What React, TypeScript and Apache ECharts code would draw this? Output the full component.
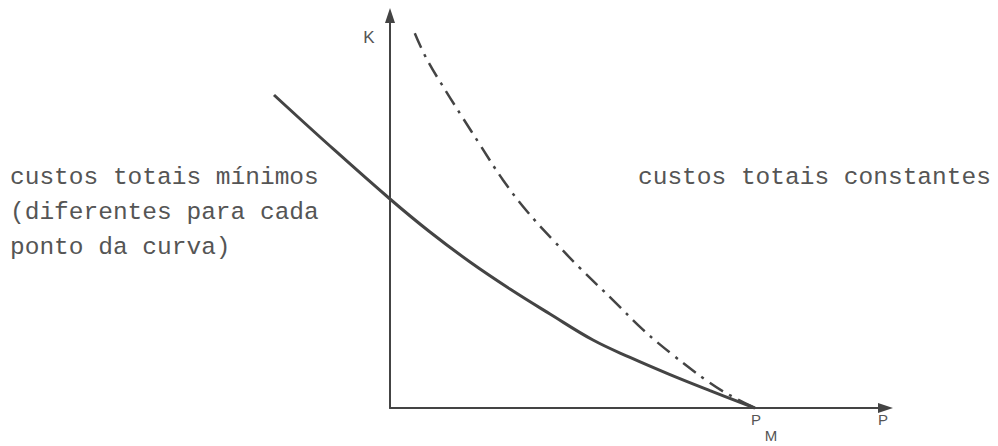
import React, { useEffect, useRef } from "react";
import * as echarts from "echarts";

// Axis ranges (abstract units: P horizontal, K vertical)
const pRange = [0, 100];
const pRangeWide = [-25, 100]; // the solid curve starts left of the K axis
const kRange = [0, 100];

// Solid curve: "custos totais mínimos"
const solidP = [-23.41, -12.11, 0, 8.07, 16.15, 24.22, 32.29, 40.97, 48.44, 56.51, 64.58, 73.66];
const solidK = [79.75, 66.75, 53.25, 44.84, 37.2, 30.32, 23.95, 17.32, 12.89, 8.51, 4.43, 0];

// Dash-dot curve: "custos totais constantes"
const dashP = [5.0, 7.5, 11.5, 14.7, 18.2, 22.8, 27.6, 32.9, 38.3, 45.0, 51.1, 57.1, 64.0, 68.1, 73.66];
const dashK = [95.5, 88.7, 80.3, 73.9, 67.0, 58.1, 50.2, 42.8, 35.7, 27.5, 19.9, 13.5, 6.9, 3.6, 0];

const leftLines = ["custos totais mínimos", "(diferentes para cada", "ponto da curva)"];
const rightLine = "custos totais constantes";
const axisNames = { k: "K", p: "P", pm: "P", pmSub: "M" };

const INK = "#444";
const TEXT = "#555";

export default function App() {
  const ref = useRef<HTMLDivElement>(null);
  useEffect(() => {
    if (!ref.current) return;
    const chart = echarts.init(ref.current, undefined, { renderer: "svg" });
    const mono = { fontFamily: '"Liberation Mono", monospace', fontSize: 24.5, fill: TEXT };
    const sans = { fontFamily: '"Liberation Sans", Arial, sans-serif', fill: TEXT };
    const plotLeft = 390;
    const plotRight = 112.5;
    const unitPx = (998 - plotRight - plotLeft) / (pRange[1] - pRange[0]);
    const wideLeft = plotLeft - (pRange[0] - pRangeWide[0]) * unitPx;
    const hiddenAxis = {
      show: false,
      splitLine: { show: false },
      axisTick: { show: false },
      axisLabel: { show: false },
      axisLine: { show: false },
    };
    const axisLine = {
      show: true,
      onZero: false,
      symbol: ["none", "triangle"],
      symbolSize: [10, 15],
      lineStyle: { color: INK, width: 2 },
    };
    chart.setOption({
      animation: false,
      backgroundColor: "#fff",
      grid: [
        { left: plotLeft, right: plotRight, top: 15.5, bottom: 38 },
        { left: wideLeft, right: plotRight, top: 15.5, bottom: 38 },
      ],
      xAxis: [
        {
          type: "value",
          gridIndex: 0,
          min: pRange[0],
          max: pRange[1],
          splitLine: { show: false },
          axisTick: { show: false },
          axisLabel: { show: false },
          axisLine,
        },
        { type: "value", gridIndex: 1, min: pRangeWide[0], max: pRangeWide[1], ...hiddenAxis },
      ],
      yAxis: [
        {
          type: "value",
          gridIndex: 0,
          min: kRange[0],
          max: kRange[1],
          splitLine: { show: false },
          axisTick: { show: false },
          axisLabel: { show: false },
          axisLine,
        },
        { type: "value", gridIndex: 1, min: kRange[0], max: kRange[1], ...hiddenAxis },
      ],
      series: [
        {
          type: "line",
          name: "custos totais mínimos",
          xAxisIndex: 1,
          yAxisIndex: 1,
          data: solidP.map((p, i) => [p, solidK[i]]),
          showSymbol: false,
          smooth: 0.4,
          clip: false,
          lineStyle: { color: INK, width: 3 },
        },
        {
          type: "line",
          name: "custos totais constantes",
          xAxisIndex: 1,
          yAxisIndex: 1,
          data: dashP.map((p, i) => [p, dashK[i]]),
          showSymbol: false,
          smooth: 0.4,
          clip: false,
          lineStyle: { color: INK, width: 2.5, type: [16, 7, 3, 7] },
        },
      ],
      graphic: [
        ...leftLines.map((t, i) => ({
          type: "text",
          x: 10,
          y: 177 + i * 35,
          style: { ...mono, text: t, textAlign: "left", textVerticalAlign: "middle" },
        })),
        {
          type: "text",
          x: 638,
          y: 177,
          style: { ...mono, text: rightLine, textAlign: "left", textVerticalAlign: "middle" },
        },
        {
          type: "text",
          x: 369,
          y: 37,
          style: { ...sans, fontSize: 17, text: axisNames.k, textAlign: "center", textVerticalAlign: "middle" },
        },
        {
          type: "text",
          x: 756,
          y: 419,
          style: { ...sans, fontSize: 15, text: axisNames.pm, textAlign: "center", textVerticalAlign: "middle" },
        },
        {
          type: "text",
          x: 771,
          y: 435,
          style: { ...sans, fontSize: 15, text: axisNames.pmSub, textAlign: "center", textVerticalAlign: "middle" },
        },
        {
          type: "text",
          x: 883,
          y: 419,
          style: { ...sans, fontSize: 15, text: axisNames.p, textAlign: "center", textVerticalAlign: "middle" },
        },
      ],
    });
    return () => chart.dispose();
  }, []);
  return (
    <div
      ref={ref}
      style={{ position: "fixed", left: 0, top: 0, width: 998, height: 446 }}
    />
  );
}
